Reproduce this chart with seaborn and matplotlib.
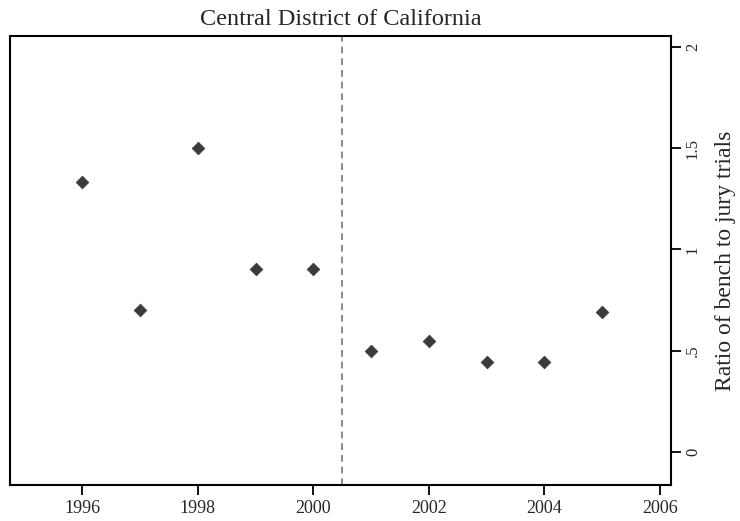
import pandas as pd
import matplotlib
matplotlib.use("Agg")
import matplotlib.pyplot as plt
import seaborn as sns

# data
years = [1996, 1997, 1998, 1999, 2000, 2001, 2002, 2003, 2004, 2005]
ratio = [1.333, 0.70, 1.50, 0.905, 0.905, 0.50, 0.55, 0.444, 0.444, 0.69]
xticks = [1996, 1998, 2000, 2002, 2004, 2006]
yticks = [0, 0.5, 1, 1.5, 2]
ytick_labels = ["0", ".5", "1", "1.5", "2"]
cutoff = 2000.5

df = pd.DataFrame({"year": years, "ratio": ratio})

sns.set_theme(style="white")
plt.rcParams["font.family"] = ["Liberation Serif", "DejaVu Serif"]

fig = plt.figure(figsize=(7.4, 5.21), dpi=100)
ax = fig.add_axes([0.0135, 0.069, 0.8933, 0.862])

sns.scatterplot(x="year", y="ratio", data=df, ax=ax, marker="D", s=42,
                color="#3a3a3a", edgecolor="#3a3a3a", linewidth=0.5)
ax.axvline(cutoff, color="#777777", linestyle=(0, (4, 3)), linewidth=1.2)

ax.set_xlim(1994.75, 2006.19)
ax.set_ylim(-0.163, 2.054)
ax.set_xticks(xticks)
ax.set_xticklabels([str(t) for t in xticks], fontsize=13)
ax.yaxis.tick_right()
ax.yaxis.set_label_position("right")
ax.set_yticks(yticks)
ax.set_yticklabels(ytick_labels, rotation=90, fontsize=12, va="center")
ax.tick_params(axis="both", direction="out", length=7, width=1.3, color="black",
               bottom=True, right=True, left=False)
ax.tick_params(axis="x", pad=4)
ax.tick_params(axis="y", pad=3)
ax.set_xlabel("")
ax.set_ylabel("Ratio of bench to jury trials", fontsize=17, labelpad=10)
ax.set_title("Central District of California", fontsize=17.5, pad=8)
for sp in ax.spines.values():
    sp.set_color("black")
    sp.set_linewidth(1.5)

fig.savefig("out.png", dpi=100)
